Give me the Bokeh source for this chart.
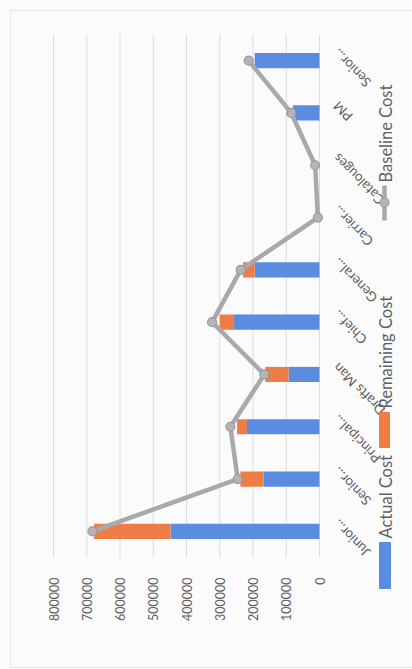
import math

from bokeh.core.properties import value
from bokeh.embed import file_html
from bokeh.models import BasicTickFormatter, ColumnDataSource, FixedTicker, Range1d
from bokeh.plotting import figure
from bokeh.resources import INLINE

# Cost per role (values in currency units)
roles = ["Junior...", "Senior...", "Principal...", "Drafts Man", "Chief...",
         "General...", "Carrier...", "Catalouges", "PM", "Senior..."]
actual_cost = [448000, 168000, 218000, 93000, 257000, 195000, 0, 0, 80000, 195000]
remaining_cost = [230000, 70000, 30000, 70000, 43000, 35000, 0, 0, 0, 0]
baseline_cost = [683000, 246000, 268000, 166000, 323000, 237000, 5000, 13000, 85000, 213000]

value_ticks = [0, 100000, 200000, 300000, 400000, 500000, 600000, 700000, 800000]
series_names = ["Actual Cost", "Remaining Cost", "Baseline Cost"]

BLUE = "#5a8ce0"
ORANGE = "#ee7d45"
GREY = "#a9a9ad"
TEXT = "#5f5f5f"
BG = "#fbfbfc"
FONT = "Lato"

# Page geometry (px): the plotting area sits inside the canvas, the value
# axis below it, category labels and legend to its right.
W, H = 412, 669
PLOT_L, PLOT_R, PLOT_T, PLOT_B = 53, 319, 34, 557

n = len(roles)
vmax = value_ticks[-1]
px_per_value = (PLOT_R - PLOT_L) / vmax
px_per_cat = (PLOT_B - PLOT_T) / n

# Data ranges stretched so the whole canvas is one frame
x_range = Range1d(vmax + PLOT_L / px_per_value, -(W - PLOT_R) / px_per_value)
y_range = Range1d(-0.5 - (H - PLOT_B) / px_per_cat, n - 0.5 + PLOT_T / px_per_cat)

positions = list(range(n))
source = ColumnDataSource(data=dict(
    pos=positions,
    role=roles,
    zero=[0] * n,
    actual=actual_cost,
    remaining=remaining_cost,
    baseline=baseline_cost,
))

p = figure(
    width=W, height=H,
    x_range=x_range, y_range=y_range,
    y_axis_location=None,
    output_backend="svg", toolbar_location=None,
    min_border=0,
    background_fill_color=BG, border_fill_color=BG,
)
p.outline_line_color = None
p.grid.visible = False
p.extra_x_ranges = {"px": Range1d(0, W)}
p.extra_y_ranges = {"px": Range1d(H, 0)}

# Chart border
p.quad(left=[10], right=[W + 5], top=[10], bottom=[667], fill_color=None,
       line_color="#e6e6ea", line_width=1,
       x_range_name="px", y_range_name="px")

# Vertical gridlines at the value ticks, spanning the category band
p.segment(x0=value_ticks, x1=value_ticks, y0=-0.5, y1=n - 0.5,
          line_color="#dcdce0", line_width=1)

# Stacked horizontal bars: actual + remaining
p.hbar_stack(["actual", "remaining"], y="pos", height=0.29,
             color=[BLUE, ORANGE], source=source, line_color=None)

# Baseline line with markers
p.line(x="baseline", y="pos", source=source, line_color=GREY, line_width=4.5,
       line_join="round")
p.scatter(x="baseline", y="pos", source=source, marker="circle", size=9,
          fill_color="#b4b4b8", line_color="#9a9a9e", line_width=1.2)

# Value axis pinned under the category band, labels reading upward
xa = p.xaxis[0]
xa.fixed_location = -0.5
xa.ticker = FixedTicker(ticks=value_ticks)
xa.formatter = BasicTickFormatter(use_scientific=False)
xa.major_label_orientation = math.pi / 2
xa.axis_line_color = None
xa.major_tick_line_color = None
xa.minor_tick_line_color = None
xa.major_label_text_font = FONT
xa.major_label_text_font_size = "12.5px"
xa.major_label_text_color = TEXT
xa.major_label_standoff = 14

# Diagonal category labels ending next to the zero line
p.text(x="zero", y="pos", text="role", source=source,
       x_offset=16, y_offset=-9, angle=3 * math.pi / 4,
       text_align="right", text_baseline="middle",
       text_font=value(FONT), text_font_size="13.5px", text_color=TEXT)

# Legend, text reading upward with its key below
lx = 385
p.quad(left=[lx - 6], right=[lx + 5], bottom=[588], top=[542], color=BLUE,
       x_range_name="px", y_range_name="px")
p.quad(left=[lx - 6], right=[lx + 4], bottom=[447], top=[412], color=ORANGE,
       x_range_name="px", y_range_name="px")
p.line(x=[lx - 1, lx - 1], y=[220, 185], line_color=GREY, line_width=4.5,
       x_range_name="px", y_range_name="px")
p.scatter(x=[lx - 1], y=[202], marker="circle", size=9,
          fill_color="#b4b4b8", line_color="#9a9a9e", line_width=1.2,
          x_range_name="px", y_range_name="px")
p.text(x=[lx, lx, lx], y=[538, 408, 182], text=series_names,
       angle=math.pi / 2, text_align="left", text_baseline="middle",
       text_font=value(FONT), text_font_size="16.5px", text_color=TEXT,
       x_range_name="px", y_range_name="px")

open("out.html", "w").write(file_html(p, INLINE))
